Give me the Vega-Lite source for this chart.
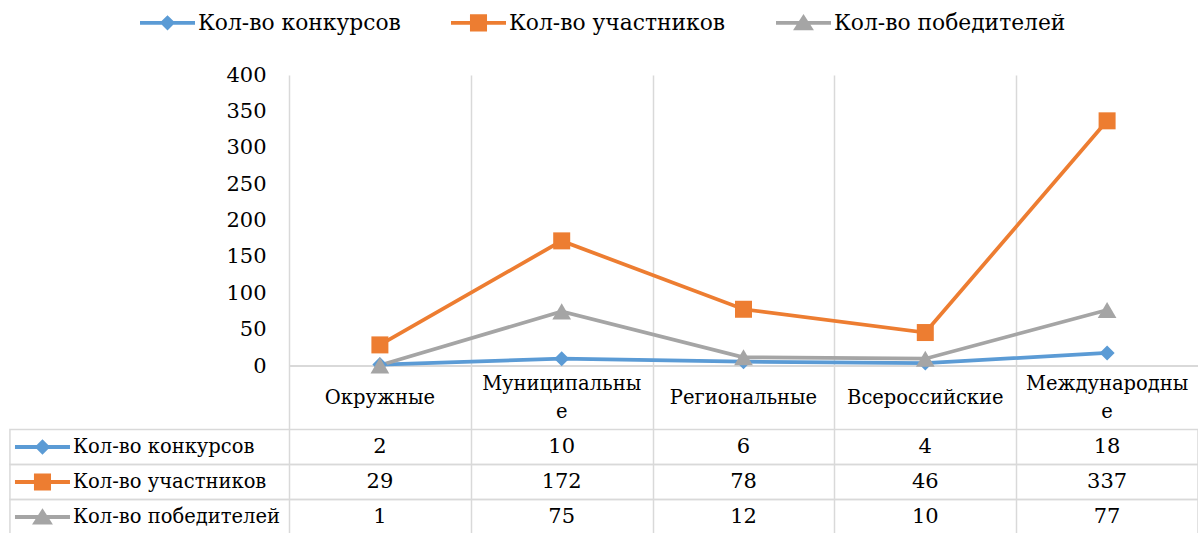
{
  "$schema": "https://vega.github.io/schema/vega-lite/v6.json",
  "width": 909,
  "height": 458,
  "autosize": {"type": "none"},
  "padding": {"left": 289, "top": 75, "right": 0, "bottom": 0},
  "background": "white",
  "config": {
    "view": {"stroke": null},
    "font": "DejaVu Serif",
    "text": {"font": "DejaVu Serif", "fontSize": 21, "color": "black"}
  },
  "datasets": {
    "values": [
      {"cat": "Окружные", "idx": 0, "series": "Кол-во конкурсов", "value": 2},
      {"cat": "Муниципальные", "idx": 1, "series": "Кол-во конкурсов", "value": 10},
      {"cat": "Региональные", "idx": 2, "series": "Кол-во конкурсов", "value": 6},
      {"cat": "Всероссийские", "idx": 3, "series": "Кол-во конкурсов", "value": 4},
      {"cat": "Международные", "idx": 4, "series": "Кол-во конкурсов", "value": 18},
      {"cat": "Окружные", "idx": 0, "series": "Кол-во участников", "value": 29},
      {"cat": "Муниципальные", "idx": 1, "series": "Кол-во участников", "value": 172},
      {"cat": "Региональные", "idx": 2, "series": "Кол-во участников", "value": 78},
      {"cat": "Всероссийские", "idx": 3, "series": "Кол-во участников", "value": 46},
      {"cat": "Международные", "idx": 4, "series": "Кол-во участников", "value": 337},
      {"cat": "Окружные", "idx": 0, "series": "Кол-во победителей", "value": 1},
      {"cat": "Муниципальные", "idx": 1, "series": "Кол-во победителей", "value": 75},
      {"cat": "Региональные", "idx": 2, "series": "Кол-во победителей", "value": 12},
      {"cat": "Всероссийские", "idx": 3, "series": "Кол-во победителей", "value": 10},
      {"cat": "Международные", "idx": 4, "series": "Кол-во победителей", "value": 77}
    ],
    "cats": [
      {"idx": 0, "label": "Окружные", "lines": 1},
      {"idx": 1, "label": "Муниципальны\nе", "lines": 2},
      {"idx": 2, "label": "Региональные", "lines": 1},
      {"idx": 3, "label": "Всероссийские", "lines": 1},
      {"idx": 4, "label": "Международны\nе", "lines": 2}
    ]
  },
  "layer": [
    {
      "data": {"name": "values"},
      "layer": [
        {
          "mark": {"type": "rule", "color": "#d9d9d9", "strokeWidth": 1.5},
          "encoding": {
            "x": {"datum": -0.5, "type": "quantitative", "scale": {"type": "linear", "domain": [-0.5, 4.5], "nice": false, "zero": false}, "axis": {"values": [-0.5, 0.5, 1.5, 2.5, 3.5], "grid": true, "gridColor": "#d9d9d9", "gridWidth": 1.5, "labels": false, "ticks": false, "domain": false, "title": null}},
            "x2": {"datum": 4.5},
            "y": {"datum": 0, "type": "quantitative", "scale": {"domain": [-229.55, 400], "nice": false, "zero": false}, "axis": {"values": [0, 50, 100, 150, 200, 250, 300, 350, 400], "grid": false, "domain": false, "ticks": false, "labelFont": "DejaVu Serif", "labelFontSize": 21, "labelColor": "black", "labelPadding": 23, "title": null}}
          }
        },
        {
          "mark": {"type": "line", "strokeWidth": 3.75},
          "encoding": {
            "x": {"field": "idx", "type": "quantitative", "scale": {"type": "linear", "domain": [-0.5, 4.5], "nice": false, "zero": false}, "axis": {"values": [-0.5, 0.5, 1.5, 2.5, 3.5], "grid": true, "gridColor": "#d9d9d9", "gridWidth": 1.5, "labels": false, "ticks": false, "domain": false, "title": null}},
            "y": {"field": "value", "type": "quantitative", "scale": {"domain": [-229.55, 400], "nice": false, "zero": false}, "axis": {"values": [0, 50, 100, 150, 200, 250, 300, 350, 400], "grid": false, "domain": false, "ticks": false, "labelFont": "DejaVu Serif", "labelFontSize": 21, "labelColor": "black", "labelPadding": 23, "title": null}},
            "color": {"field": "series", "type": "nominal", "scale": {"domain": ["Кол-во конкурсов", "Кол-во участников", "Кол-во победителей"], "range": ["#5B9BD5", "#ED7D31", "#A5A5A5"]}, "legend": {"title": null, "orient": "none", "legendX": -149, "legendY": -80, "direction": "horizontal", "symbolSize": 3025, "symbolStrokeWidth": 0, "symbolOpacity": 1, "labelFont": "DejaVu Serif", "labelFontSize": 21.8, "labelColor": "black", "labelOffset": 3, "labelLimit": 0, "columnPadding": 50, "padding": 0}}
          }
        },
        {
          "transform": [{"filter": "datum.series == 'Кол-во конкурсов'"}],
          "mark": {"type": "point", "shape": "diamond", "size": 225, "filled": true, "opacity": 1},
          "encoding": {
            "x": {"field": "idx", "type": "quantitative"},
            "y": {"field": "value", "type": "quantitative"},
            "color": {"field": "series", "type": "nominal"}
          }
        },
        {
          "transform": [{"filter": "datum.series == 'Кол-во участников'"}],
          "mark": {"type": "point", "shape": "square", "size": 289, "filled": true, "opacity": 1},
          "encoding": {
            "x": {"field": "idx", "type": "quantitative"},
            "y": {"field": "value", "type": "quantitative"},
            "color": {"field": "series", "type": "nominal"}
          }
        },
        {
          "transform": [{"filter": "datum.series == 'Кол-во победителей'"}],
          "mark": {"type": "point", "shape": "triangle-up", "size": 350, "filled": true, "opacity": 1},
          "encoding": {
            "x": {"field": "idx", "type": "quantitative"},
            "y": {"field": "value", "type": "quantitative"},
            "color": {"field": "series", "type": "nominal"}
          }
        },
        {
          "data": {"name": "cats"},
          "transform": [{"filter": "datum.lines == 1"}],
          "mark": {"type": "text", "fontSize": 19.5, "baseline": "middle", "align": "center"},
          "encoding": {
            "x": {"field": "idx", "type": "quantitative"},
            "y": {"datum": -44, "type": "quantitative"},
            "text": {"field": "label"}
          }
        },
        {
          "data": {"name": "cats"},
          "transform": [{"filter": "datum.lines == 2"}],
          "mark": {"type": "text", "fontSize": 19.5, "lineBreak": "\n", "lineHeight": 28, "baseline": "middle", "align": "center"},
          "encoding": {
            "x": {"field": "idx", "type": "quantitative"},
            "y": {"datum": -24.7, "type": "quantitative"},
            "text": {"field": "label"}
          }
        }
      ]
    },
    {
      "data": {"name": "values"},
      "layer": [
        {
          "transform": [{"filter": "datum.idx == 0"}],
          "mark": {"type": "rect", "fill": "transparent", "stroke": "#d9d9d9", "strokeWidth": 1.5},
          "encoding": {
            "x": {"datum": -2.035, "type": "quantitative"},
            "x2": {"datum": 4.5},
            "y": {"field": "series", "type": "nominal", "scale": {"type": "band", "domain": ["Кол-во конкурсов", "Кол-во участников", "Кол-во победителей"], "range": [354.5, 459.5], "paddingInner": 0, "paddingOuter": 0}, "axis": null}
          }
        },
        {
          "transform": [{"filter": "datum.idx == 0"}],
          "mark": {"type": "point", "filled": true, "opacity": 1, "size": 3025, "strokeWidth": 0},
          "encoding": {
            "x": {"datum": -1.856, "type": "quantitative"},
            "y": {"field": "series", "type": "nominal", "axis": null},
            "color": {"field": "series", "type": "nominal"},
            "shape": {"field": "series", "type": "nominal", "scale": {"domain": ["Кол-во конкурсов", "Кол-во участников", "Кол-во победителей"], "range": ["M-1,-0.07H1V0.07H-1Z M0,-0.28L0.28,0L0,0.28L-0.28,0Z", "M-1,-0.07H1V0.07H-1Z M-0.31,-0.31H0.31V0.31H-0.31Z", "M-1,-0.07H1V0.07H-1Z M0,-0.32L0.38,0.27H-0.38Z"]}, "legend": {"title": null, "orient": "none", "legendX": -149, "legendY": -80, "direction": "horizontal", "symbolSize": 3025, "symbolStrokeWidth": 0, "symbolOpacity": 1, "labelFont": "DejaVu Serif", "labelFontSize": 21.8, "labelColor": "black", "labelOffset": 3, "labelLimit": 0, "columnPadding": 50, "padding": 0}}
          }
        },
        {
          "transform": [{"filter": "datum.idx == 0"}],
          "mark": {"type": "text", "align": "left", "baseline": "middle", "fontSize": 19.5},
          "encoding": {
            "x": {"datum": -1.688, "type": "quantitative"},
            "y": {"field": "series", "type": "nominal", "axis": null},
            "text": {"field": "series"}
          }
        },
        {
          "mark": {"type": "text", "align": "center", "baseline": "middle", "fontSize": 21},
          "encoding": {
            "x": {"field": "idx", "type": "quantitative"},
            "y": {"field": "series", "type": "nominal", "axis": null},
            "text": {"field": "value", "type": "quantitative"}
          }
        }
      ]
    }
  ],
  "resolve": {"scale": {"y": "independent"}}
}
